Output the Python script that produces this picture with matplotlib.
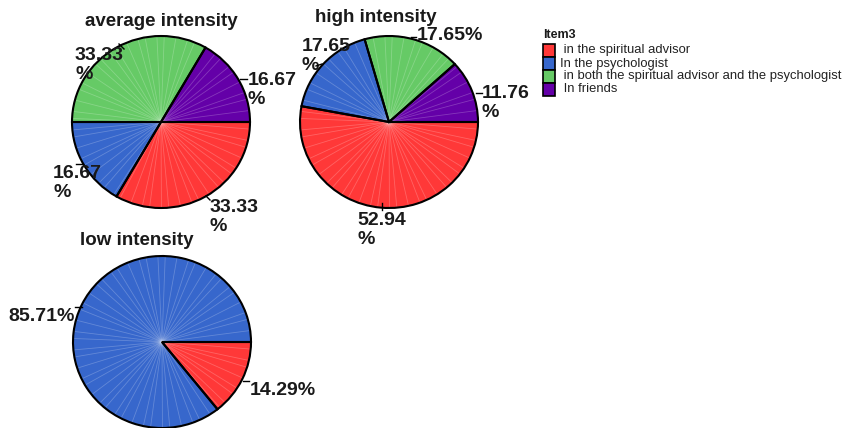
import matplotlib
matplotlib.use("Agg")
import matplotlib.pyplot as plt
import numpy as np
from matplotlib.patches import Rectangle

plt.rcParams["font.family"] = ["Liberation Sans", "DejaVu Sans"]

# ---- data -------------------------------------------------------------
categories = [
    "in the spiritual advisor",
    "In the psychologist",
    "in both the spiritual advisor and the psychologist",
    "In friends",
]
legend_labels = [
    " in the spiritual advisor",
    "In the psychologist",
    " in both the spiritual advisor and the psychologist",
    " In friends",
]
colors = ["#FF3838", "#3767CC", "#66CA66", "#6400A8"]
panels = ["average intensity", "high intensity", "low intensity"]
average_pct = [33.33, 16.67, 33.33, 16.67]
high_pct = [52.94, 17.65, 17.65, 11.76]
low_pct = [14.29, 85.71, 0.0, 0.0]
legend_title = "Item3"

# ---- layout (pixel units, y measured from the top) --------------------
W, H = 847, 428
SY = 89 / 86  # pies are drawn slightly wider than tall


def Y(py):
    return (H - py) * SY


fig = plt.figure(figsize=(W / 100, H / 100), dpi=100)
ax = fig.add_axes([0, 0, 1, 1])

R = 89
pie_layout = {
    "average intensity": dict(values=average_pct, center=(161, 122), title=(161, 21)),
    "high intensity": dict(values=high_pct, center=(389, 122), title=(376, 18)),
    "low intensity": dict(values=low_pct, center=(162, 342), title=(137, 241)),
}

# label placement: (x_left, first-line y, wrapped?) per slice, plus leader tick
label_layout = {
    "average intensity": [
        (210, 209, True, [(206, 196), (210, 200)]),
        (53, 175, True, [(76, 164), (83, 164)]),
        (75, 57, True, [(119, 44), (124, 49)]),
        (248, 82, True, [(240, 79), (247, 79)]),
    ],
    "high intensity": [
        (357, 222, True, [(382, 203), (382, 210)]),
        (302, 48, True, [(316, 66), (322, 64)]),
        (417, 37, False, [(411, 37), (416, 37)]),
        (482, 95, True, [(476, 93), (482, 93)]),
    ],
    "low intensity": [
        (250, 392, False, [(243, 381), (249, 381)]),
        (8, 318, False, [(75, 307), (82, 307)]),
        None,
        None,
    ],
}

# faint radial streak directions (golden-angle spread)
streak_angles = np.deg2rad((np.arange(55) * 137.508) % 360)

for name in panels:
    info = pie_layout[name]
    vals = info["values"]
    idx = [i for i, v in enumerate(vals) if v > 0]
    v_used = [vals[i] for i in idx]
    c_used = [colors[i] for i in idx]
    cx, cy = info["center"]
    center = (cx, Y(cy))

    # filled slices
    ax.pie(v_used, colors=c_used, startangle=0, counterclock=False,
           center=center, radius=R, frame=True,
           wedgeprops=dict(linewidth=0, zorder=1))
    for ang in streak_angles:
        ax.plot([center[0], center[0] + R * 0.985 * np.cos(ang)],
                [center[1], center[1] + R * 0.985 * np.sin(ang)],
                color="white", alpha=0.22, lw=0.6, zorder=1.5)
    # slice outlines
    ax.pie(v_used, colors=["none"] * len(v_used), startangle=0,
           counterclock=False, center=center, radius=R, frame=True,
           wedgeprops=dict(edgecolor="black", linewidth=1.5, zorder=2))

    tx, ty = info["title"]
    ax.text(tx, Y(ty), name, ha="center", va="center", fontsize=13.5,
            fontweight="bold", color="#1a1a1a", zorder=5)

    for i, spec in enumerate(label_layout[name]):
        if spec is None:
            continue
        lx, ly, wrapped, tick = spec
        s = f"{vals[i]:.2f}\n%" if wrapped else f"{vals[i]:.2f}%"
        ax.text(lx, Y(ly) + 10.5, s, ha="left", va="top", fontsize=14,
                fontweight="bold", color="#1a1a1a", linespacing=1.2, zorder=6)
        (x0, y0), (x1, y1) = tick
        ax.plot([x0, x1], [Y(y0), Y(y1)], color="black", lw=1.0, zorder=6)

# ---- legend -----------------------------------------------------------
ax.text(543, Y(35), legend_title, ha="left", va="center", fontsize=9,
        fontweight="bold", color="#1a1a1a")
row_y = [50.5, 63.5, 76.5, 89.5]
for c, lab, ry in zip(colors, legend_labels, row_y):
    ax.add_patch(Rectangle((543, Y(ry + 6.5)), 12, 13 * SY, facecolor=c,
                           edgecolor="black", linewidth=1.2, zorder=3))
    ax.text(560, Y(ry), lab, ha="left", va="center", fontsize=9.4,
            color="#222222")

ax.set_xlim(0, W)
ax.set_ylim(0, H * SY)
ax.set_aspect("auto")
ax.axis("off")

fig.savefig("out.png", dpi=100, facecolor="white")
